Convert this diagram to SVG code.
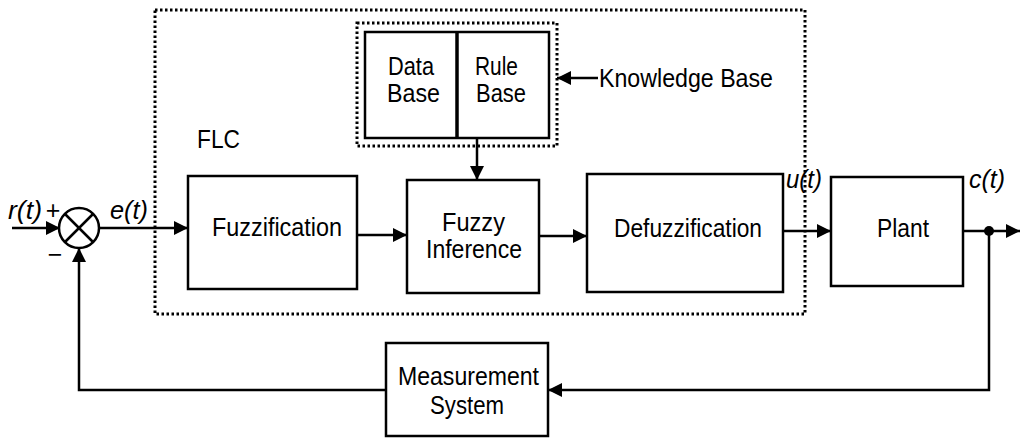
<svg xmlns="http://www.w3.org/2000/svg" width="1021" height="438" viewBox="0 0 1021 438">
  <defs>
    <marker id="arrow" viewBox="0 0 14 14" refX="14" refY="7" markerWidth="14" markerHeight="14" markerUnits="userSpaceOnUse" orient="auto">
      <path d="M0,0 L14,7 L0,14 Z" fill="#000"/>
    </marker>
    <style>
      .box { fill: #fff; stroke: #000; stroke-width: 2.5; }
      .dot { fill: none; stroke: #000; stroke-width: 3; stroke-dasharray: 2.5 2.5; }
      .wire { fill: none; stroke: #000; stroke-width: 2.5; }
      .lbl { font-family: "Liberation Sans", Arial, sans-serif; font-size: 25px; fill: #000; }
      .mid { text-anchor: middle; }
      .sig { font-family: "Liberation Sans", Arial, sans-serif; font-size: 25px; font-style: italic; fill: #000; }
    </style>
  </defs>
  <rect width="1021" height="438" fill="#fff"/>

  <!-- controller boundary -->
  <rect class="dot" x="155" y="10" width="650" height="304"/>
  <text class="lbl" x="197" y="148" textLength="43" lengthAdjust="spacingAndGlyphs">FLC</text>

  <!-- knowledge base boundary -->
  <rect class="dot" x="357" y="23" width="200" height="123"/>

  <g id="connectors">
    <line class="wire" x1="12" y1="228" x2="60" y2="228" marker-end="url(#arrow)"/>
    <line class="wire" x1="99" y1="228" x2="188" y2="228" marker-end="url(#arrow)"/>
    <line class="wire" x1="357" y1="235" x2="407" y2="235" marker-end="url(#arrow)"/>
    <line class="wire" x1="539" y1="236" x2="587" y2="236" marker-end="url(#arrow)"/>
    <line class="wire" x1="783" y1="231" x2="831" y2="231" marker-end="url(#arrow)"/>
    <line class="wire" x1="963" y1="231" x2="1020" y2="231" marker-end="url(#arrow)"/>
    <circle cx="989" cy="231" r="5" fill="#000"/>
    <polyline class="wire" points="989,231 989,390 548,390" marker-end="url(#arrow)"/>
    <polyline class="wire" points="386,390 79,390 79,248" marker-end="url(#arrow)"/>
    <line class="wire" x1="477" y1="138" x2="477" y2="180" marker-end="url(#arrow)"/>
    <line class="wire" x1="598" y1="78" x2="557" y2="78" marker-end="url(#arrow)"/>
  </g>

  <g id="summing-junction">
    <circle cx="79" cy="228" r="20" fill="#fff" stroke="#000" stroke-width="2.5"/>
    <line class="wire" x1="65" y1="214" x2="93" y2="242"/>
    <line class="wire" x1="93" y1="214" x2="65" y2="242"/>
    <text class="lbl mid" x="53" y="219">+</text>
    <text class="lbl mid" x="55" y="263">−</text>
  </g>

  <text class="sig" x="8" y="219" textLength="34" lengthAdjust="spacingAndGlyphs">r(t)</text>
  <text class="sig" x="110" y="219" textLength="38" lengthAdjust="spacingAndGlyphs">e(t)</text>
  <text class="sig" x="786" y="188" textLength="36" lengthAdjust="spacingAndGlyphs">u(t)</text>
  <text class="sig" x="969" y="188" textLength="36" lengthAdjust="spacingAndGlyphs">c(t)</text>

  <g id="knowledge-base">
    <rect class="box" x="365" y="32" width="184" height="106"/>
    <line x1="457" y1="32" x2="457" y2="138" stroke="#000" stroke-width="3.5"/>
    <text class="lbl" x="388" y="75" textLength="46" lengthAdjust="spacingAndGlyphs">Data</text>
    <text class="lbl" x="387" y="102" textLength="53" lengthAdjust="spacingAndGlyphs">Base</text>
    <text class="lbl" x="475" y="75" textLength="43" lengthAdjust="spacingAndGlyphs">Rule</text>
    <text class="lbl" x="476" y="102" textLength="50" lengthAdjust="spacingAndGlyphs">Base</text>
    <text class="lbl" x="599" y="87" textLength="174" lengthAdjust="spacingAndGlyphs">Knowledge Base</text>
  </g>

  <g id="fuzzification">
    <rect class="box" x="188" y="176" width="169" height="113"/>
    <text class="lbl" x="212" y="236" textLength="130" lengthAdjust="spacingAndGlyphs">Fuzzification</text>
  </g>

  <g id="fuzzy-inference">
    <rect class="box" x="407" y="180" width="132" height="113"/>
    <text class="lbl" x="442" y="231" textLength="63" lengthAdjust="spacingAndGlyphs">Fuzzy</text>
    <text class="lbl" x="426" y="258" textLength="96" lengthAdjust="spacingAndGlyphs">Inference</text>
  </g>

  <g id="defuzzification">
    <rect class="box" x="587" y="174" width="196" height="118"/>
    <text class="lbl" x="614" y="237" textLength="148" lengthAdjust="spacingAndGlyphs">Defuzzification</text>
  </g>

  <g id="plant">
    <rect class="box" x="831" y="177" width="132" height="109"/>
    <text class="lbl" x="877" y="237" textLength="52" lengthAdjust="spacingAndGlyphs">Plant</text>
  </g>

  <g id="measurement-system">
    <rect class="box" x="386" y="343" width="162" height="93"/>
    <text class="lbl" x="398" y="385" textLength="141" lengthAdjust="spacingAndGlyphs">Measurement</text>
    <text class="lbl" x="430" y="414" textLength="74" lengthAdjust="spacingAndGlyphs">System</text>
  </g>
</svg>
